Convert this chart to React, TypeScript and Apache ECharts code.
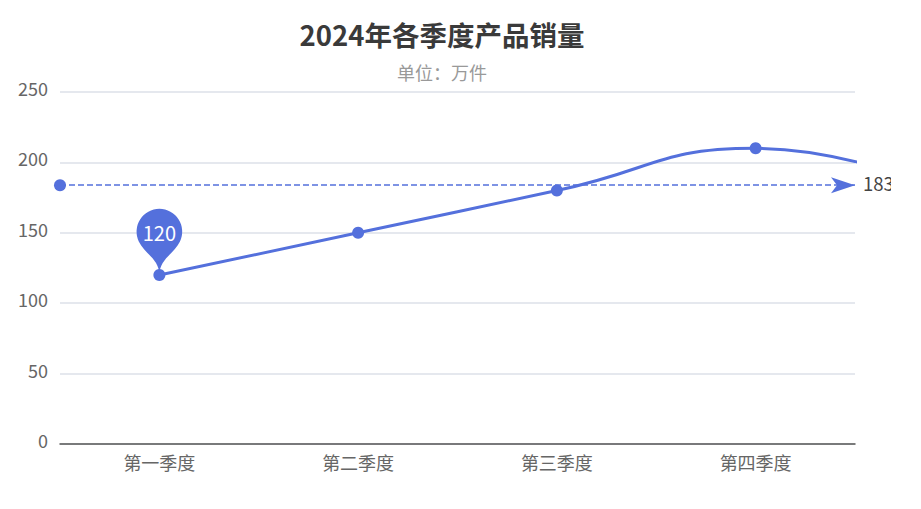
import React, { useEffect, useRef } from "react";
import * as echarts from "echarts";

const titleText = "2024年各季度产品销量";
const subtitleText = "单位：万件";
const categories = ["第一季度", "第二季度", "第三季度", "第四季度"];
const salesValues = [120, 150, 180, 210, 176];
const referenceValue = 183.8;
const FONT = '"Noto Sans CJK SC", "Noto Sans", sans-serif';
const BLUE = "#5470DC";

export default function App() {
  const ref = useRef<HTMLDivElement>(null);
  useEffect(() => {
    const chart = echarts.init(ref.current!, null, { renderer: "svg" });
    chart.setOption({
      animation: false,
      textStyle: { fontFamily: FONT },
      title: {
        text: titleText,
        subtext: subtitleText,
        left: 437,
        top: 15,
        textAlign: "center",
        itemGap: 16,
        textStyle: { fontSize: 27.5, fontWeight: "bold", color: "#3A3A3A", fontFamily: FONT },
        subtextStyle: { fontSize: 18, color: "#999999", fontFamily: FONT },
      },
      grid: { left: 60, right: 36, top: 92, bottom: 65 },
      xAxis: {
        type: "category",
        data: categories,
        axisLine: { lineStyle: { color: "#555555", width: 1.5 } },
        axisTick: { show: false },
        axisLabel: { fontSize: 18, color: "#666666", margin: 9, fontFamily: FONT },
      },
      yAxis: {
        type: "value",
        min: 0,
        max: 250,
        interval: 50,
        axisLine: { show: false },
        axisTick: { show: false },
        axisLabel: {
          fontSize: 18,
          color: "#666666",
          margin: 12,
          verticalAlign: "bottom",
          lineHeight: 8,
          fontFamily: FONT,
        },
        splitLine: { lineStyle: { color: "#DDE1E8", width: 1.5 } },
      },
      series: [
        {
          type: "line",
          data: salesValues,
          smooth: true,
          symbol: "circle",
          symbolSize: 12,
          lineStyle: { color: BLUE, width: 3 },
          itemStyle: { color: BLUE },
          markPoint: {
            symbolSize: 76,
            data: [{ type: "min" }],
            itemStyle: { color: BLUE },
            label: { fontSize: 20, color: "#FFFFFF", fontFamily: FONT, offset: [0, -3] },
          },
          markLine: {
            symbol: ["circle", "arrow"],
            symbolSize: [12, 24],
            data: [{ yAxis: referenceValue }],
            lineStyle: { color: BLUE, type: "dashed", width: 1.5 },
            itemStyle: { color: BLUE },
            label: {
              fontSize: 18.5,
              color: "#444444",
              fontFamily: FONT,
              distance: 8,
              offset: [0, -2],
              formatter: (p: any) => String(Math.floor(p.value)),
            },
            emphasis: { disabled: true },
          },
        },
      ],
    });
    return () => chart.dispose();
  }, []);
  return (
    <div
      ref={ref}
      style={{ position: "absolute", left: 0, top: 0, width: 891, height: 509 }}
    />
  );
}
